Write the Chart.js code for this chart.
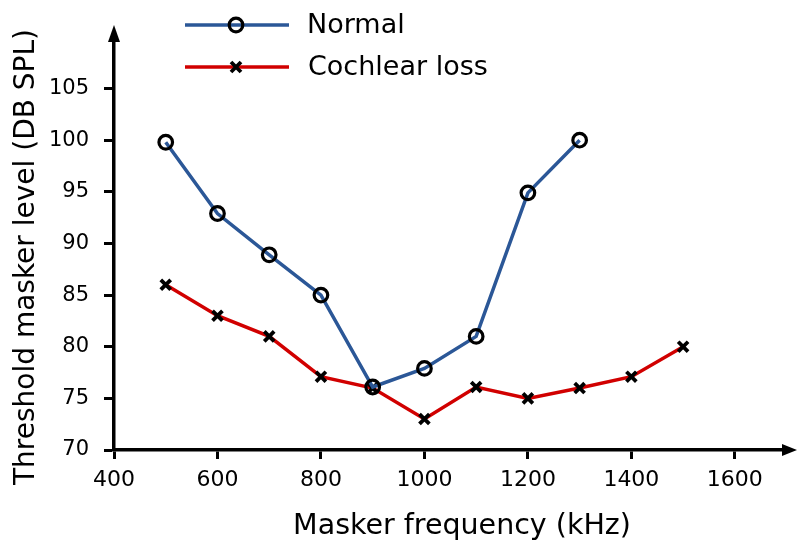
<!DOCTYPE html>
<html>
<head>
<meta charset="utf-8">
<script src="https://cdn.jsdelivr.net/npm/chart.js@4.4.1/dist/chart.umd.min.js"></script>
<style>
  html, body { margin: 0; padding: 0; background: #fff; }
  #wrap { width: 797px; height: 547px; position: relative; }
</style>
</head>
<body>
<div id="wrap"><canvas id="c" width="797" height="547"></canvas></div>
<script>
// Masker frequencies (kHz) and threshold masker levels (dB SPL)
const freqNormal = [500, 600, 700, 800, 900, 1000, 1100, 1200, 1300];
const levelNormal = [99.8, 92.9, 88.9, 85.0, 76.1, 77.9, 81.0, 94.9, 100.0];

const freqCochlear = [500, 600, 700, 800, 900, 1000, 1100, 1200, 1300, 1400, 1500];
const levelCochlear = [86.0, 83.0, 81.0, 77.1, 76.0, 73.0, 76.1, 75.0, 76.0, 77.1, 80.0];

const xTicks = [400, 600, 800, 1000, 1200, 1400, 1600];
const yTicks = [70, 75, 80, 85, 90, 95, 100, 105];

const seriesNames = ['Normal', 'Cochlear loss'];
const xTitle = 'Masker frequency (kHz)';
const yTitle = 'Threshold masker level (DB SPL)';

const FONT = "'DejaVu Sans', sans-serif";
const BLUE = '#2b5797';
const RED = '#d10000';

const toPoints = (xs, ys) => xs.map((x, i) => ({ x: x, y: ys[i] }));

// Axis arrows at the open ends of the axes
const arrowPlugin = {
  id: 'axisArrows',
  afterDraw(chart) {
    const { ctx, chartArea: a } = chart;
    ctx.save();
    ctx.fillStyle = '#000';
    ctx.beginPath();
    ctx.moveTo(a.right - 2, a.bottom - 6);
    ctx.lineTo(a.right + 13, a.bottom);
    ctx.lineTo(a.right - 2, a.bottom + 6);
    ctx.closePath();
    ctx.fill();
    ctx.beginPath();
    ctx.moveTo(a.left - 6, a.top + 2);
    ctx.lineTo(a.left, a.top - 15);
    ctx.lineTo(a.left + 6, a.top + 2);
    ctx.closePath();
    ctx.fill();
    ctx.restore();
  }
};

// Axis titles, centred along the full axis length including the arrows
const axisTitlePlugin = {
  id: 'axisTitles',
  afterDraw(chart) {
    const { ctx, chartArea: a } = chart;
    ctx.save();
    ctx.fillStyle = '#000';
    ctx.textAlign = 'center';
    ctx.textBaseline = 'middle';
    ctx.font = '28.5px ' + FONT;
    ctx.fillText(xTitle, (a.left + a.right) / 2 + 13, 527);
    ctx.font = '28px ' + FONT;
    ctx.translate(27, (a.top + a.bottom) / 2 + 12);
    ctx.rotate(-Math.PI / 2);
    ctx.fillText(yTitle, 0, 0);
    ctx.restore();
  }
};

// Legend with line + marker samples
const legendPlugin = {
  id: 'lineLegend',
  afterDraw(chart) {
    const { ctx } = chart;
    const rows = [
      { y: 25, ds: chart.data.datasets[0] },
      { y: 67, ds: chart.data.datasets[1] }
    ];
    ctx.save();
    rows.forEach((r, i) => {
      ctx.strokeStyle = r.ds.borderColor;
      ctx.lineWidth = 3.5;
      ctx.beginPath();
      ctx.moveTo(185, r.y);
      ctx.lineTo(289, r.y);
      ctx.stroke();
      ctx.strokeStyle = '#000';
      if (i === 0) {
        ctx.lineWidth = 3.2;
        ctx.beginPath();
        ctx.arc(236, r.y, 6.8, 0, Math.PI * 2);
        ctx.stroke();
      } else {
        ctx.lineWidth = 3.8;
        ctx.beginPath();
        ctx.moveTo(231, r.y - 5); ctx.lineTo(241, r.y + 5);
        ctx.moveTo(231, r.y + 5); ctx.lineTo(241, r.y - 5);
        ctx.stroke();
      }
      ctx.fillStyle = '#000';
      ctx.font = '27px ' + FONT;
      ctx.textBaseline = 'middle';
      ctx.textAlign = 'left';
      ctx.fillText(seriesNames[i], i === 0 ? 307 : 308, r.y + 1);
    });
    ctx.restore();
  }
};

new Chart(document.getElementById('c'), {
  type: 'line',
  data: {
    datasets: [
      {
        label: seriesNames[0],
        data: toPoints(freqNormal, levelNormal),
        borderColor: BLUE,
        borderWidth: 3.5,
        pointStyle: 'circle',
        pointRadius: 6.8,
        pointBorderWidth: 3.2,
        pointBorderColor: '#000',
        pointBackgroundColor: 'rgba(0,0,0,0)',
        tension: 0
      },
      {
        label: seriesNames[1],
        data: toPoints(freqCochlear, levelCochlear),
        borderColor: RED,
        borderWidth: 3.5,
        pointStyle: 'crossRot',
        pointRadius: 7,
        pointBorderWidth: 3.8,
        pointBorderColor: '#000',
        tension: 0
      }
    ]
  },
  options: {
    responsive: false,
    animation: false,
    layout: { padding: { top: 40, right: 13, left: 0, bottom: 0 } },
    plugins: {
      legend: { display: false },
      tooltip: { enabled: false }
    },
    scales: {
      x: {
        type: 'linear',
        min: 400,
        max: 1695,
        afterBuildTicks(scale) { scale.ticks = xTicks.map(v => ({ value: v })); },
        afterFit(scale) { scale.height = 97; },
        ticks: {
          color: '#000',
          font: { family: FONT, size: 22 },
          padding: 8,
          maxRotation: 0,
          callback: v => String(v)
        },
        grid: {
          display: true,
          drawOnChartArea: false,
          drawTicks: true,
          tickLength: 9,
          tickColor: '#000',
          tickWidth: 3
        },
        border: { display: true, color: '#000', width: 3.5 },
        title: { display: false }
      },
      y: {
        type: 'linear',
        min: 70,
        max: 109.7,
        afterBuildTicks(scale) { scale.ticks = yTicks.map(v => ({ value: v })); },
        afterFit(scale) { scale.width = 114; },
        ticks: {
          color: '#000',
          font: { family: FONT, size: 21 },
          padding: 15,
          callback: v => String(v)
        },
        grid: {
          display: true,
          drawOnChartArea: false,
          drawTicks: true,
          tickLength: 10,
          tickColor: '#000',
          tickWidth: 3
        },
        border: { display: true, color: '#000', width: 3.5 },
        title: { display: false }
      }
    }
  },
  plugins: [arrowPlugin, axisTitlePlugin, legendPlugin]
});
</script>
</body>
</html>
